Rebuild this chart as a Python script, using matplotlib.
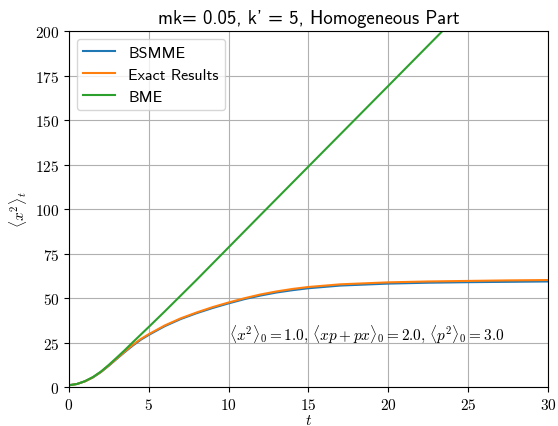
import matplotlib
matplotlib.use('Agg')
import matplotlib.pyplot as plt
from matplotlib.ticker import FormatStrFormatter

plt.rcParams['font.family'] = 'cmss10'
plt.rcParams['mathtext.fontset'] = 'cm'
plt.rcParams['axes.unicode_minus'] = False

# values
t_exact = [0, 0.5, 1, 1.5, 2, 2.5, 3, 3.5, 4, 4.5, 5, 6, 7, 8, 9, 10, 11, 12, 13, 14, 15,
           17, 20, 22.5, 25, 27.5, 30]
exact = [1.0, 1.7, 3.2, 5.5, 8.5, 12.2, 16.1, 20.0, 23.7, 27.0, 29.7, 34.6, 38.6, 41.9, 44.9,
         47.5, 49.9, 52.0, 53.7, 55.1, 56.2, 57.7, 58.8, 59.3, 59.6, 59.9, 60.1]
bsmme = [1.0, 1.7, 3.2, 5.4, 8.4, 12.0, 15.9, 19.7, 23.3, 26.6, 29.3, 34.2, 38.2, 41.5, 44.4,
         47.0, 49.4, 51.4, 53.1, 54.4, 55.5, 57.0, 58.1, 58.6, 58.9, 59.1, 59.3]
t_bme = [0, 0.5, 1, 1.5, 2, 2.5, 3, 3.5, 4, 4.5, 5, 6, 8, 10, 12, 15, 20, 25]
bme = [1.0, 1.7, 3.3, 5.6, 8.7, 12.5, 16.6, 20.8, 25.2, 29.5, 33.8, 42.5, 60.3, 78.5, 96.7,
       123.9, 169.2, 214.6]

fig = plt.figure(figsize=(5.58, 4.27), dpi=100)
ax = fig.add_axes([0.1237, 0.0913, 0.8583, 0.8337])

ax.plot(t_exact, bsmme, color='#1f77b4', lw=1.5, label='BSMME')
ax.plot(t_exact, exact, color='#ff7f0e', lw=1.5, label='Exact Results')
ax.plot(t_bme, bme, color='#2ca02c', lw=1.5, label='BME')

ax.set_xlim(0, 30)
ax.set_ylim(0, 200)
ax.set_xticks([0, 5, 10, 15, 20, 25, 30])
ax.set_yticks([0, 25, 50, 75, 100, 125, 150, 175, 200])
ax.xaxis.set_major_formatter(FormatStrFormatter('$%d$'))
ax.yaxis.set_major_formatter(FormatStrFormatter('$%d$'))
ax.tick_params(labelsize=11)
ax.grid(True)

ax.set_xlabel(r'$t$', fontsize=11, labelpad=1)
ax.set_ylabel(r'$\langle x^2\rangle_t$', fontsize=11)
ax.set_title("mk= 0.05, k' = 5, Homogeneous Part", fontsize=13.5)
ax.text(10, 30, r'$\langle x^2\rangle_0=1.0,\, \langle xp+px\rangle_0=2.0,\, \langle p^2\rangle_0=3.0$',
        fontsize=11, va='center')
ax.legend(loc='upper left', fontsize=11.5)

fig.savefig('out.png', dpi=100)
